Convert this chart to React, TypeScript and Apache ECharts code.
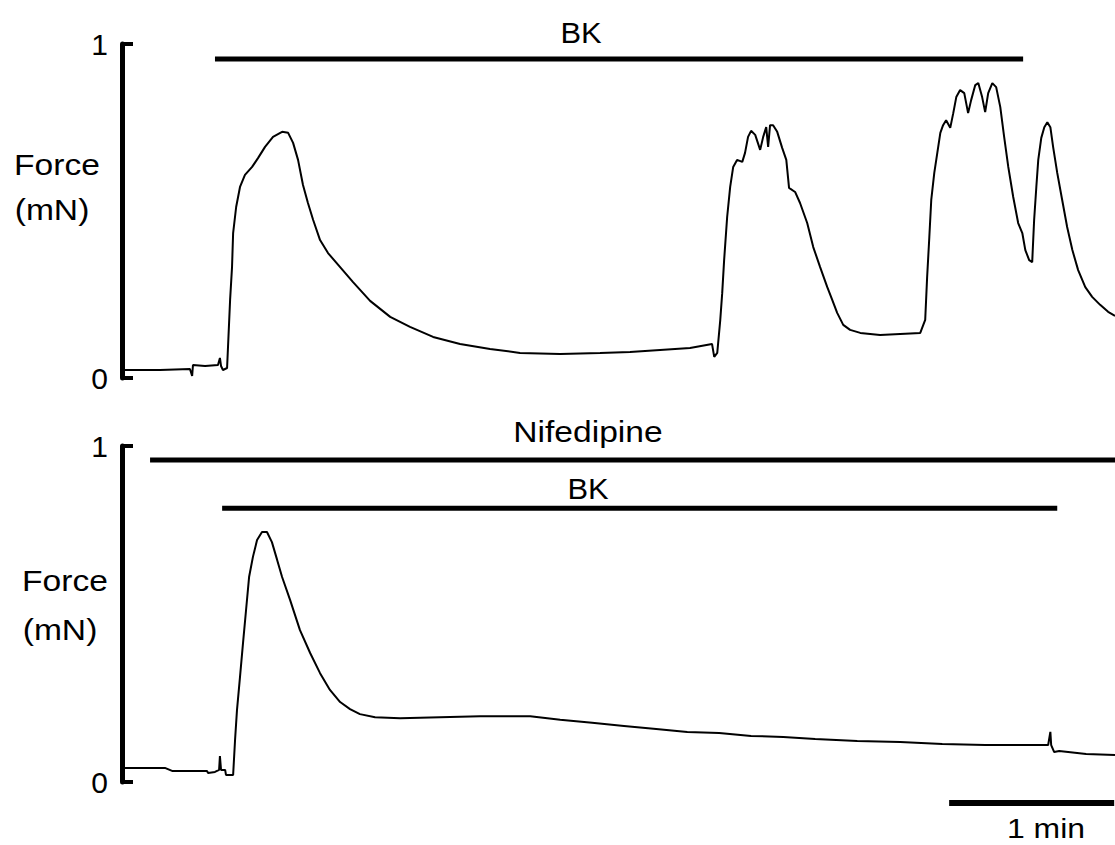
import React, { useEffect, useRef } from "react";
import * as echarts from "echarts";

// time in seconds, force in mN
const topTrace: [number, number][] = [
  [1.1, 0.024], [13.8, 0.024], [24.7, 0.027], [25.5, 0.006], [25.8, 0.039], [30.2, 0.036],
  [34.9, 0.039], [35.6, 0.06], [36.0, 0.036], [36.7, 0.024], [38.2, 0.03], [39.3, 0.234],
  [40.0, 0.332], [40.4, 0.434], [41.5, 0.512], [42.9, 0.572], [44.7, 0.608], [47.3, 0.632],
  [49.5, 0.659], [52.0, 0.692], [54.9, 0.722], [58.2, 0.737], [60.4, 0.734], [62.2, 0.704],
  [64.0, 0.653], [65.8, 0.578], [67.6, 0.524], [69.5, 0.473], [72.0, 0.413], [74.9, 0.374],
  [79.3, 0.332], [84.0, 0.287], [90.2, 0.231], [97.5, 0.183], [104.7, 0.153], [113.1, 0.123],
  [122.9, 0.102], [133.8, 0.087], [144.7, 0.075], [159.3, 0.072], [173.8, 0.075], [184.7, 0.078],
  [195.6, 0.084], [206.5, 0.09], [214.5, 0.102], [215.3, 0.063], [216.4, 0.075], [217.5, 0.174],
  [218.2, 0.254], [218.9, 0.353], [220.0, 0.482], [221.1, 0.572], [222.2, 0.632], [223.6, 0.653],
  [225.5, 0.647], [226.5, 0.674], [227.6, 0.722], [228.7, 0.74], [230.2, 0.728], [232.0, 0.683],
  [233.1, 0.722], [234.2, 0.751], [234.9, 0.692], [235.6, 0.757], [236.7, 0.757], [238.2, 0.737],
  [240.0, 0.689], [241.5, 0.653], [242.5, 0.569], [244.7, 0.557], [246.5, 0.524], [249.1, 0.464],
  [251.3, 0.392], [253.8, 0.332], [256.4, 0.272], [258.2, 0.234], [260.0, 0.195], [262.2, 0.159],
  [264.7, 0.144], [268.4, 0.135], [275.6, 0.129], [282.9, 0.132], [290.2, 0.135], [292.0, 0.174],
  [292.7, 0.302], [293.5, 0.422], [294.2, 0.533], [295.3, 0.614], [296.4, 0.674], [297.5, 0.734],
  [298.5, 0.757], [299.6, 0.772], [301.1, 0.749], [302.2, 0.793], [303.3, 0.841], [304.7, 0.862],
  [306.2, 0.853], [307.6, 0.793], [308.7, 0.832], [310.2, 0.877], [311.3, 0.883], [312.7, 0.841],
  [313.8, 0.796], [314.9, 0.853], [316.4, 0.883], [317.8, 0.871], [319.3, 0.811], [320.7, 0.722],
  [322.2, 0.632], [324.0, 0.542], [325.8, 0.464], [327.3, 0.434], [328.4, 0.383], [329.8, 0.353],
  [330.9, 0.347], [331.6, 0.473], [332.4, 0.572], [333.1, 0.653], [334.2, 0.719], [335.3, 0.751],
  [336.4, 0.766], [337.5, 0.751], [338.5, 0.692], [340.0, 0.614], [341.8, 0.533], [343.6, 0.452],
  [345.5, 0.383], [347.6, 0.323], [350.2, 0.272], [352.7, 0.243], [355.6, 0.219], [358.5, 0.198],
  [361.0, 0.186],
];

const bottomTrace: [number, number][] = [
  [1.1, 0.042], [15.6, 0.042], [18.2, 0.033], [30.9, 0.033], [31.3, 0.027], [33.8, 0.03],
  [35.3, 0.036], [35.6, 0.077], [36.0, 0.036], [37.5, 0.036], [37.8, 0.021], [40.4, 0.021],
  [41.1, 0.125], [41.8, 0.214], [42.9, 0.313], [44.0, 0.414], [45.1, 0.512], [46.2, 0.61],
  [47.6, 0.67], [49.1, 0.72], [50.9, 0.744], [52.7, 0.744], [54.5, 0.714], [56.4, 0.661],
  [58.2, 0.61], [61.1, 0.542], [64.7, 0.452], [68.4, 0.384], [72.0, 0.324], [75.6, 0.274],
  [79.3, 0.238], [82.9, 0.217], [86.5, 0.202], [92.0, 0.193], [101.1, 0.19], [115.6, 0.193],
  [130.2, 0.196], [148.4, 0.196], [159.3, 0.185], [170.9, 0.176], [182.5, 0.167], [194.2, 0.158],
  [205.5, 0.149], [217.1, 0.146], [228.7, 0.137], [240.4, 0.134], [252.0, 0.128], [267.3, 0.122],
  [282.9, 0.119], [298.2, 0.113], [313.8, 0.11], [336.7, 0.11], [337.5, 0.149], [337.8, 0.11],
  [338.9, 0.089], [340.7, 0.092], [350.5, 0.083], [361.0, 0.08],
];

// application periods [start, end] in seconds
const bkTopPeriod = [33.8, 327.6];
const nifedipinePeriod = [10.2, 361];
const bkBottomPeriod = [36.4, 340];
const scaleBarPeriod = [300.7, 360.7]; // 1 min

const yTicks = [0, 1];

const FONT = '"Liberation Sans", Arial, sans-serif';

export default function App() {
  const ref = useRef<HTMLDivElement>(null);
  useEffect(() => {
    if (!ref.current) return;
    const chart = echarts.init(ref.current, undefined, { renderer: "svg" });
    const yAxisBase = {
      type: "value" as const,
      min: yTicks[0],
      max: yTicks[1],
      interval: 1,
      axisLine: { show: true, lineStyle: { color: "#000", width: 5 } },
      axisTick: { show: true, inside: true, length: 11, lineStyle: { color: "#000", width: 4 } },
      axisLabel: { color: "#000", fontSize: 30, fontFamily: FONT, margin: 14 },
      splitLine: { show: false },
    };
    const xAxisBase = { type: "value" as const, min: 0, max: 361, show: false };
    const lineS = (data: any, xi: number, width: number, clip = true) => ({
      type: "line",
      xAxisIndex: xi,
      yAxisIndex: xi,
      data,
      showSymbol: false,
      symbol: "none",
      clip,
      lineStyle: { color: "#000", width, cap: "butt" },
      silent: true,
    });
    const txt = (text: string, x: number, y: number, sx = 1.12, size = 30) => ({
      type: "text",
      x,
      y,
      scaleX: sx,
      silent: true,
      style: {
        text,
        fill: "#000",
        font: `${size}px ${FONT}`,
        align: "center",
        verticalAlign: "middle",
        textAlign: "center",
        textVerticalAlign: "middle",
      },
    });
    chart.setOption({
      animation: false,
      backgroundColor: "#fff",
      grid: [
        { left: 122, right: 0, top: 44, height: 334 },
        { left: 122, right: 0, top: 446, height: 336 },
      ],
      xAxis: [{ ...xAxisBase, gridIndex: 0 }, { ...xAxisBase, gridIndex: 1 }],
      yAxis: [{ ...yAxisBase, gridIndex: 0 }, { ...yAxisBase, gridIndex: 1 }],
      series: [
        lineS(topTrace, 0, 2),
        lineS(bkTopPeriod.map((t) => [t, 0.955]), 0, 5),
        lineS(bottomTrace, 1, 2),
        lineS(nifedipinePeriod.map((t) => [t, 0.958]), 1, 5),
        lineS(bkBottomPeriod.map((t) => [t, 0.815]), 1, 5),
        lineS(scaleBarPeriod.map((t) => [t, -0.0625]), 1, 6, false),
      ],
      graphic: [
        txt("BK", 581, 32, 1.03),
        txt("Force", 57, 165),
        txt("(mN)", 52, 210),
        txt("Nifedipine", 588, 432),
        txt("BK", 588, 488, 1.03),
        txt("Force", 65, 581),
        txt("(mN)", 60, 630),
        txt("1 min", 1046, 828, 1.14, 28),
      ],
    });
    return () => chart.dispose();
  }, []);
  return (
    <div
      ref={ref}
      style={{ position: "fixed", left: 0, top: 0, width: 1115, height: 845, background: "#fff" }}
    />
  );
}
